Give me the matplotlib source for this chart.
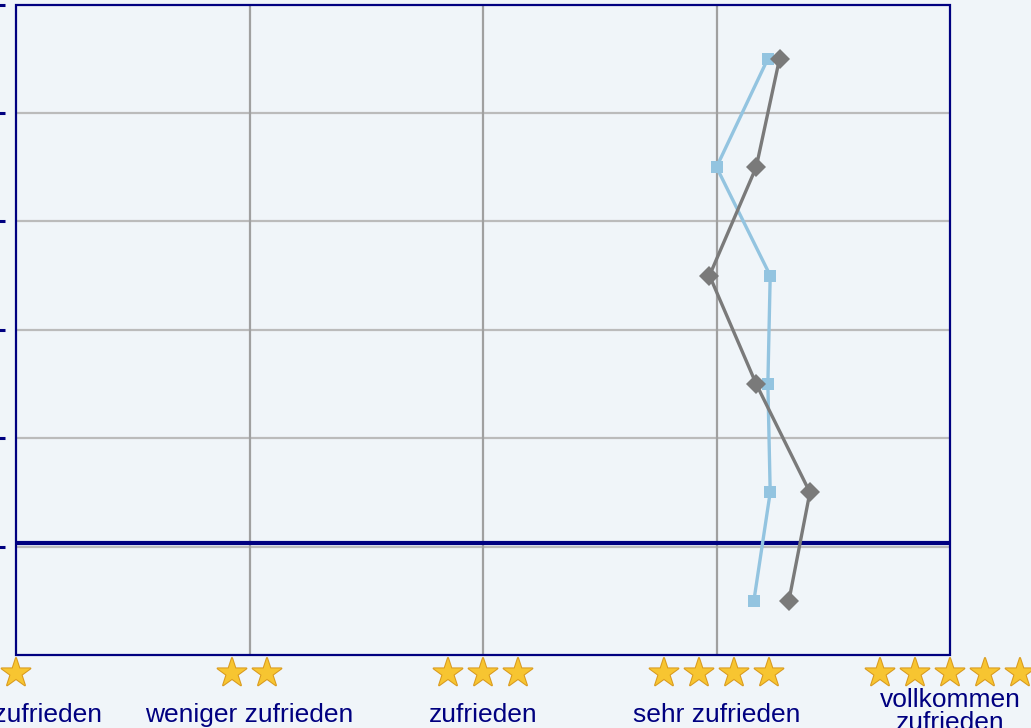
import numpy as np
import matplotlib
matplotlib.use("Agg")
import matplotlib.pyplot as plt
import matplotlib.patheffects as pe
from matplotlib.patches import Rectangle

# rating scale on the x axis
scale_values = [1, 2, 3, 4, 5]
scale_labels = ['nicht zufrieden', 'weniger zufrieden', 'zufrieden', 'sehr zufrieden', 'vollkommen\nzufrieden']
star_counts = [1, 2, 3, 4, 5]

# six rows (top to bottom), names are outside the visible area
rows = [0, 1, 2, 3, 4, 5]
blue_values = [4.22, 4.00, 4.23, 4.22, 4.23, 4.16]
gray_values = [4.27, 4.17, 3.97, 4.17, 4.40, 4.31]
row_ticks = [-0.5, 0.5, 1.5, 2.5, 3.5, 4.5]

bg = '#F0F5F9'
navy = '#000080'

fig = plt.figure(figsize=(10.31, 7.28), dpi=100, facecolor=bg)
ax = fig.add_axes([16/1031, 73/728, 934/1031, 650.5/728])
ax.set_facecolor(bg)

ax.set_xlim(1, 5)
ax.set_ylim(5.5, -0.5)

# grid
for y in row_ticks[1:]:
    ax.axhline(y, color='#BBBBBB', lw=1.6, zorder=1)
for x in scale_values[1:-1]:
    ax.axvline(x, color='#A0A0A0', lw=1.6, zorder=1)
ax.axhline(4.47, color=navy, lw=3, zorder=2)

ax.plot(blue_values, rows, color='#93C4E0', lw=2.4, marker='s', markersize=8,
        markeredgewidth=0, zorder=3)
ax.plot(gray_values, rows, color='#7A7A7A', lw=2.4, marker='D', markersize=10,
        markeredgewidth=0, zorder=4)

# frame
for s in ax.spines.values():
    s.set_visible(False)
ax.add_patch(Rectangle((0, 0), 1, 1, transform=ax.transAxes, fill=False,
                       edgecolor=navy, lw=1.6, zorder=5, clip_on=False))
ax.spines['left'].set_position(('outward', 8))
ax.set_yticks(row_ticks)
ax.set_yticklabels([])
ax.tick_params(axis='y', direction='out', length=6, width=2.2, color=navy)
ax.set_xticks([])

# star icons and labels under the axis
for val, n, lab in zip(scale_values, star_counts, scale_labels):
    for k in range(n):
        off = (k - (n - 1) / 2) * 25.2
        ax.annotate('\u2605', xy=(val, 0), xycoords=('data', 'axes fraction'),
                    xytext=(off, -14.5), textcoords='offset points',
                    ha='center', va='center', fontsize=27, color='#F7C531',
                    family='DejaVu Sans', annotation_clip=False,
                    path_effects=[pe.withStroke(linewidth=1.5, foreground='#D99A1E')])
    if '\n' in lab:
        ax.annotate(lab, xy=(val, 0), xycoords=('data', 'axes fraction'),
                    xytext=(0, -23.5), textcoords='offset points',
                    ha='center', va='top', fontsize=19, color=navy,
                    family='Liberation Sans', linespacing=0.95, annotation_clip=False)
    else:
        ax.annotate(lab, xy=(val, 0), xycoords=('data', 'axes fraction'),
                    xytext=(0, -48), textcoords='offset points',
                    ha='center', va='baseline', fontsize=19, color=navy,
                    family='Liberation Sans', annotation_clip=False)

fig.savefig('out.png', dpi=100, facecolor=bg)
